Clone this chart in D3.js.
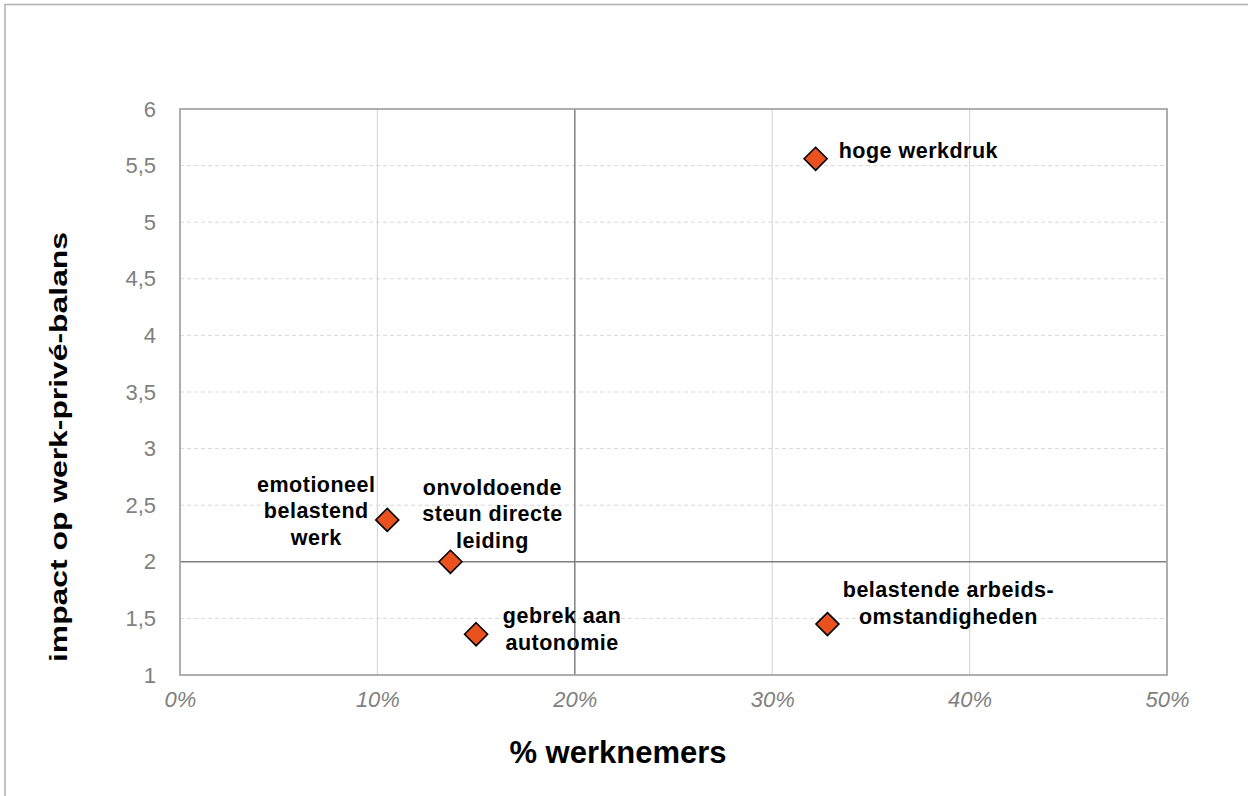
<!DOCTYPE html>
<html>
<head>
<meta charset="utf-8">
<script src="https://cdn.jsdelivr.net/npm/d3@7"></script>
<style>
  html, body { margin: 0; padding: 0; background: #fff; }
  svg { display: block; }
</style>
</head>
<body>
<svg id="chart" width="1248" height="796"></svg>
<script>
// Risk factors: share of employees (%) vs. impact on work-life balance
const categories = [
  "hoge werkdruk",
  "emotioneel belastend werk",
  "onvoldoende steun directe leiding",
  "gebrek aan autonomie",
  "belastende arbeidsomstandigheden"
];
const pctEmployees = [32.2, 10.5, 13.7, 15.0, 32.8];
const impactScores = [5.56, 2.37, 2.0, 1.36, 1.45];
const labelLines = [
  ["hoge werkdruk"],
  ["emotioneel", "belastend", "werk"],
  ["onvoldoende", "steun directe", "leiding"],
  ["gebrek aan", "autonomie"],
  ["belastende arbeids-", "omstandigheden"]
];
const xTicks = [0, 10, 20, 30, 40, 50];
const yTicks = [1, 1.5, 2, 2.5, 3, 3.5, 4, 4.5, 5, 5.5, 6];
const xDivider = 20;   // quadrant split on the x axis
const yDivider = 2;    // quadrant split on the y axis

// Label placement relative to each marker (anchor, offset to first baseline)
const labelPlacement = [
  { anchor: "start",  dx: 23,  dy: -1 },
  { anchor: "middle", dx: -71, dy: -28 },
  { anchor: "middle", dx: 42,  dy: -67 },
  { anchor: "middle", dx: 86,  dy: -11 },
  { anchor: "middle", dx: 121, dy: -27 }
];

const svg = d3.select("#chart");
const plot = { left: 180, top: 109, right: 1167, bottom: 675 };

const x = d3.scaleLinear().domain([0, 50]).range([plot.left, plot.right]);
const y = d3.scaleLinear().domain([1, 6]).range([plot.bottom, plot.top]);

// Outer frame (top and left edges visible)
svg.append("path")
  .attr("d", "M5,796 L5,4.5 L1248,4.5")
  .attr("fill", "none")
  .attr("stroke", "#b0b0b0")
  .attr("stroke-width", 1.5);

// Horizontal dashed gridlines
svg.append("g")
  .selectAll("line")
  .data(yTicks.filter(v => v !== 1 && v !== 6 && v !== yDivider))
  .join("line")
  .attr("x1", plot.left).attr("x2", plot.right)
  .attr("y1", d => y(d)).attr("y2", d => y(d))
  .attr("stroke", "#d9d9d9")
  .attr("stroke-width", 1)
  .attr("stroke-dasharray", "4,3");

// Vertical gridlines
svg.append("g")
  .selectAll("line")
  .data(xTicks.filter(v => v !== 0 && v !== 50 && v !== xDivider))
  .join("line")
  .attr("x1", d => x(d)).attr("x2", d => x(d))
  .attr("y1", plot.top).attr("y2", plot.bottom)
  .attr("stroke", "#d9d9d9")
  .attr("stroke-width", 1.2);

// Quadrant dividers
svg.append("line")
  .attr("x1", x(xDivider)).attr("x2", x(xDivider))
  .attr("y1", plot.top).attr("y2", plot.bottom)
  .attr("stroke", "#808080").attr("stroke-width", 1.5);
svg.append("line")
  .attr("x1", plot.left).attr("x2", plot.right)
  .attr("y1", y(yDivider)).attr("y2", y(yDivider))
  .attr("stroke", "#808080").attr("stroke-width", 1.5);

// Plot border
svg.append("rect")
  .attr("x", plot.left).attr("y", plot.top)
  .attr("width", plot.right - plot.left)
  .attr("height", plot.bottom - plot.top)
  .attr("fill", "none")
  .attr("stroke", "#a6a6a6")
  .attr("stroke-width", 1.8);

// Y axis tick labels
const yAxis = d3.axisLeft(y)
  .tickValues(yTicks)
  .tickSize(0)
  .tickPadding(24)
  .tickFormat(d => String(d).replace(".", ","));
const gy = svg.append("g")
  .attr("transform", `translate(${plot.left},0)`)
  .call(yAxis);
gy.select(".domain").remove();
gy.selectAll("text")
  .attr("fill", "#7f7f7f")
  .attr("font-family", "Liberation Sans, Arial, sans-serif")
  .attr("font-size", 22);

// X axis tick labels
const xAxis = d3.axisBottom(x)
  .tickValues(xTicks)
  .tickSize(0)
  .tickPadding(16)
  .tickFormat(d => d + "%");
const gx = svg.append("g")
  .attr("transform", `translate(0,${plot.bottom})`)
  .call(xAxis);
gx.select(".domain").remove();
gx.selectAll("text")
  .attr("fill", "#7f7f7f")
  .attr("font-family", "Liberation Sans, Arial, sans-serif")
  .attr("font-style", "italic")
  .attr("font-size", 22);

// Axis titles
svg.append("text")
  .attr("x", 618)
  .attr("y", 763)
  .attr("text-anchor", "middle")
  .attr("font-family", "Liberation Sans, Arial, sans-serif")
  .attr("font-weight", "bold")
  .attr("font-size", 31)
  .attr("fill", "#000")
  .text("% werknemers");

svg.append("text")
  .attr("transform", "translate(67,447) rotate(-90)")
  .attr("text-anchor", "middle")
  .attr("font-family", "Liberation Sans, Arial, sans-serif")
  .attr("font-weight", "bold")
  .attr("font-size", 24)
  .attr("textLength", 430)
  .attr("lengthAdjust", "spacingAndGlyphs")
  .attr("fill", "#000")
  .text("impact op werk-privé-balans");

// Data points
const points = categories.map((c, i) => ({
  name: c,
  px: pctEmployees[i],
  py: impactScores[i],
  lines: labelLines[i],
  place: labelPlacement[i]
}));

const half = 11.5;
svg.append("g")
  .selectAll("path")
  .data(points)
  .join("path")
  .attr("transform", d => `translate(${x(d.px)},${y(d.py)})`)
  .attr("d", `M0,${-half} L${half},0 L0,${half} L${-half},0 Z`)
  .attr("fill", "#e9521f")
  .attr("stroke", "#000")
  .attr("stroke-width", 1.6)
  .attr("stroke-linejoin", "miter");

// Data labels
const labels = svg.append("g")
  .selectAll("text")
  .data(points)
  .join("text")
  .attr("text-anchor", d => d.place.anchor)
  .attr("font-family", "Liberation Sans, Arial, sans-serif")
  .attr("font-weight", "bold")
  .attr("font-size", 21.5)
  .attr("letter-spacing", 0.5)
  .attr("fill", "#000");

labels.each(function(d) {
  const t = d3.select(this);
  d.lines.forEach((line, j) => {
    t.append("tspan")
      .attr("x", x(d.px) + d.place.dx)
      .attr("y", y(d.py) + d.place.dy + j * 26.5)
      .text(line);
  });
});
</script>
</body>
</html>
